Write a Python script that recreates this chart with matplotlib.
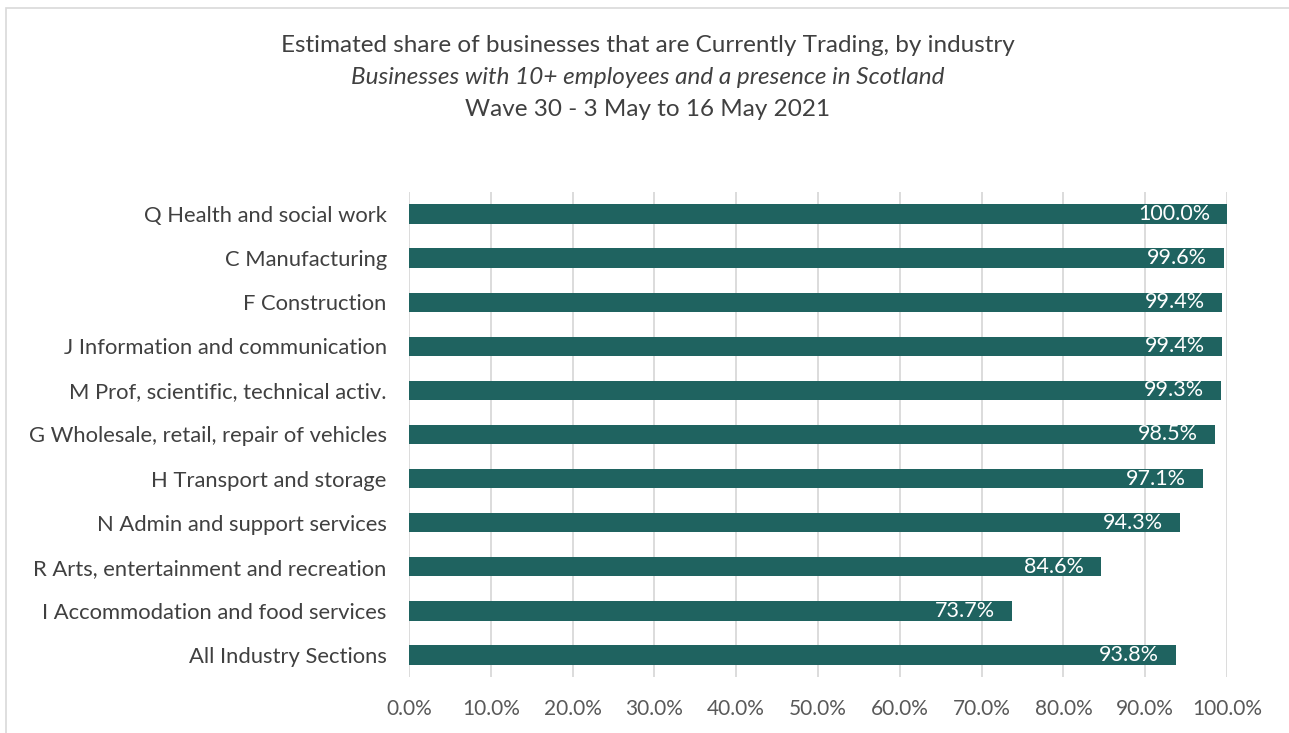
import matplotlib
matplotlib.use("Agg")
import matplotlib.pyplot as plt
from matplotlib.patches import Rectangle
from matplotlib.ticker import FuncFormatter, MultipleLocator
import matplotlib.transforms as mtransforms

plt.rcParams['font.family'] = ['Lato', 'DejaVu Sans']

categories = [
    "Q Health and social work",
    "C Manufacturing",
    "F Construction",
    "J Information and communication",
    "M Prof, scientific, technical activ.",
    "G Wholesale, retail, repair of vehicles",
    "H Transport and storage",
    "N Admin and support services",
    "R Arts, entertainment and recreation",
    "I Accommodation and food services",
    "All Industry Sections",
]
values = [100.0, 99.6, 99.4, 99.4, 99.3, 98.5, 97.1, 94.3, 84.6, 73.7, 93.8]

title_lines = [
    "Estimated share of businesses that are Currently Trading, by industry",
    "Businesses with 10+ employees and a presence in Scotland",
    "Wave 30 - 3 May to 16 May 2021",
]

W, H = 1289, 733
fig = plt.figure(figsize=(W / 100, H / 100), dpi=100)
fig.patch.set_facecolor("white")

# chart border
fig.patches.append(Rectangle((6 / W, -0.05), 1.2, 1 - 8 / H + 0.05,
                             transform=fig.transFigure, fill=False,
                             edgecolor="#d9d9d9", linewidth=1.2))

ax = fig.add_axes([409 / W, 1 - 677 / H, (1227 - 409) / W, (677 - 192) / H])

bar_color = "#1f6360"
ypos = list(range(len(categories)))
ax.barh(ypos, values, height=0.44, color=bar_color, zorder=3)
ax.set_ylim(len(categories) - 0.5, -0.5)
ax.set_xlim(0, 100)
ax.set_yticks(ypos)
ax.set_yticklabels(categories, fontsize=15.8, color="#404040")
ax.xaxis.set_major_locator(MultipleLocator(10))
ax.xaxis.set_major_formatter(FuncFormatter(lambda v, p: f"{v:.1f}%"))
ax.tick_params(axis="x", labelsize=15, labelcolor="#595959", length=0, pad=16)
ax.tick_params(axis="y", length=0, pad=16)
ax.grid(axis="x", color="#d9d9d9", linewidth=1.3, zorder=0)
for s in ax.spines.values():
    s.set_visible(False)

offset = mtransforms.ScaledTranslation(-17 / 100, 0, fig.dpi_scale_trans)
for y, v in zip(ypos, values):
    ax.text(v, y, f"{v:.1f}%", ha="right", va="center", color="white",
            fontsize=15.5, transform=ax.transData + offset, zorder=4)

fig.text(648 / W, 1 - 45 / H, title_lines[0], ha="center", va="center",
         fontsize=17.5, color="#404040")
fig.text(648 / W, 1 - 77 / H, title_lines[1], ha="center", va="center",
         fontsize=17.5, color="#404040", style="italic")
fig.text(648 / W, 1 - 109 / H, title_lines[2], ha="center", va="center",
         fontsize=17.5, color="#404040")

fig.savefig("out.png", dpi=100)
